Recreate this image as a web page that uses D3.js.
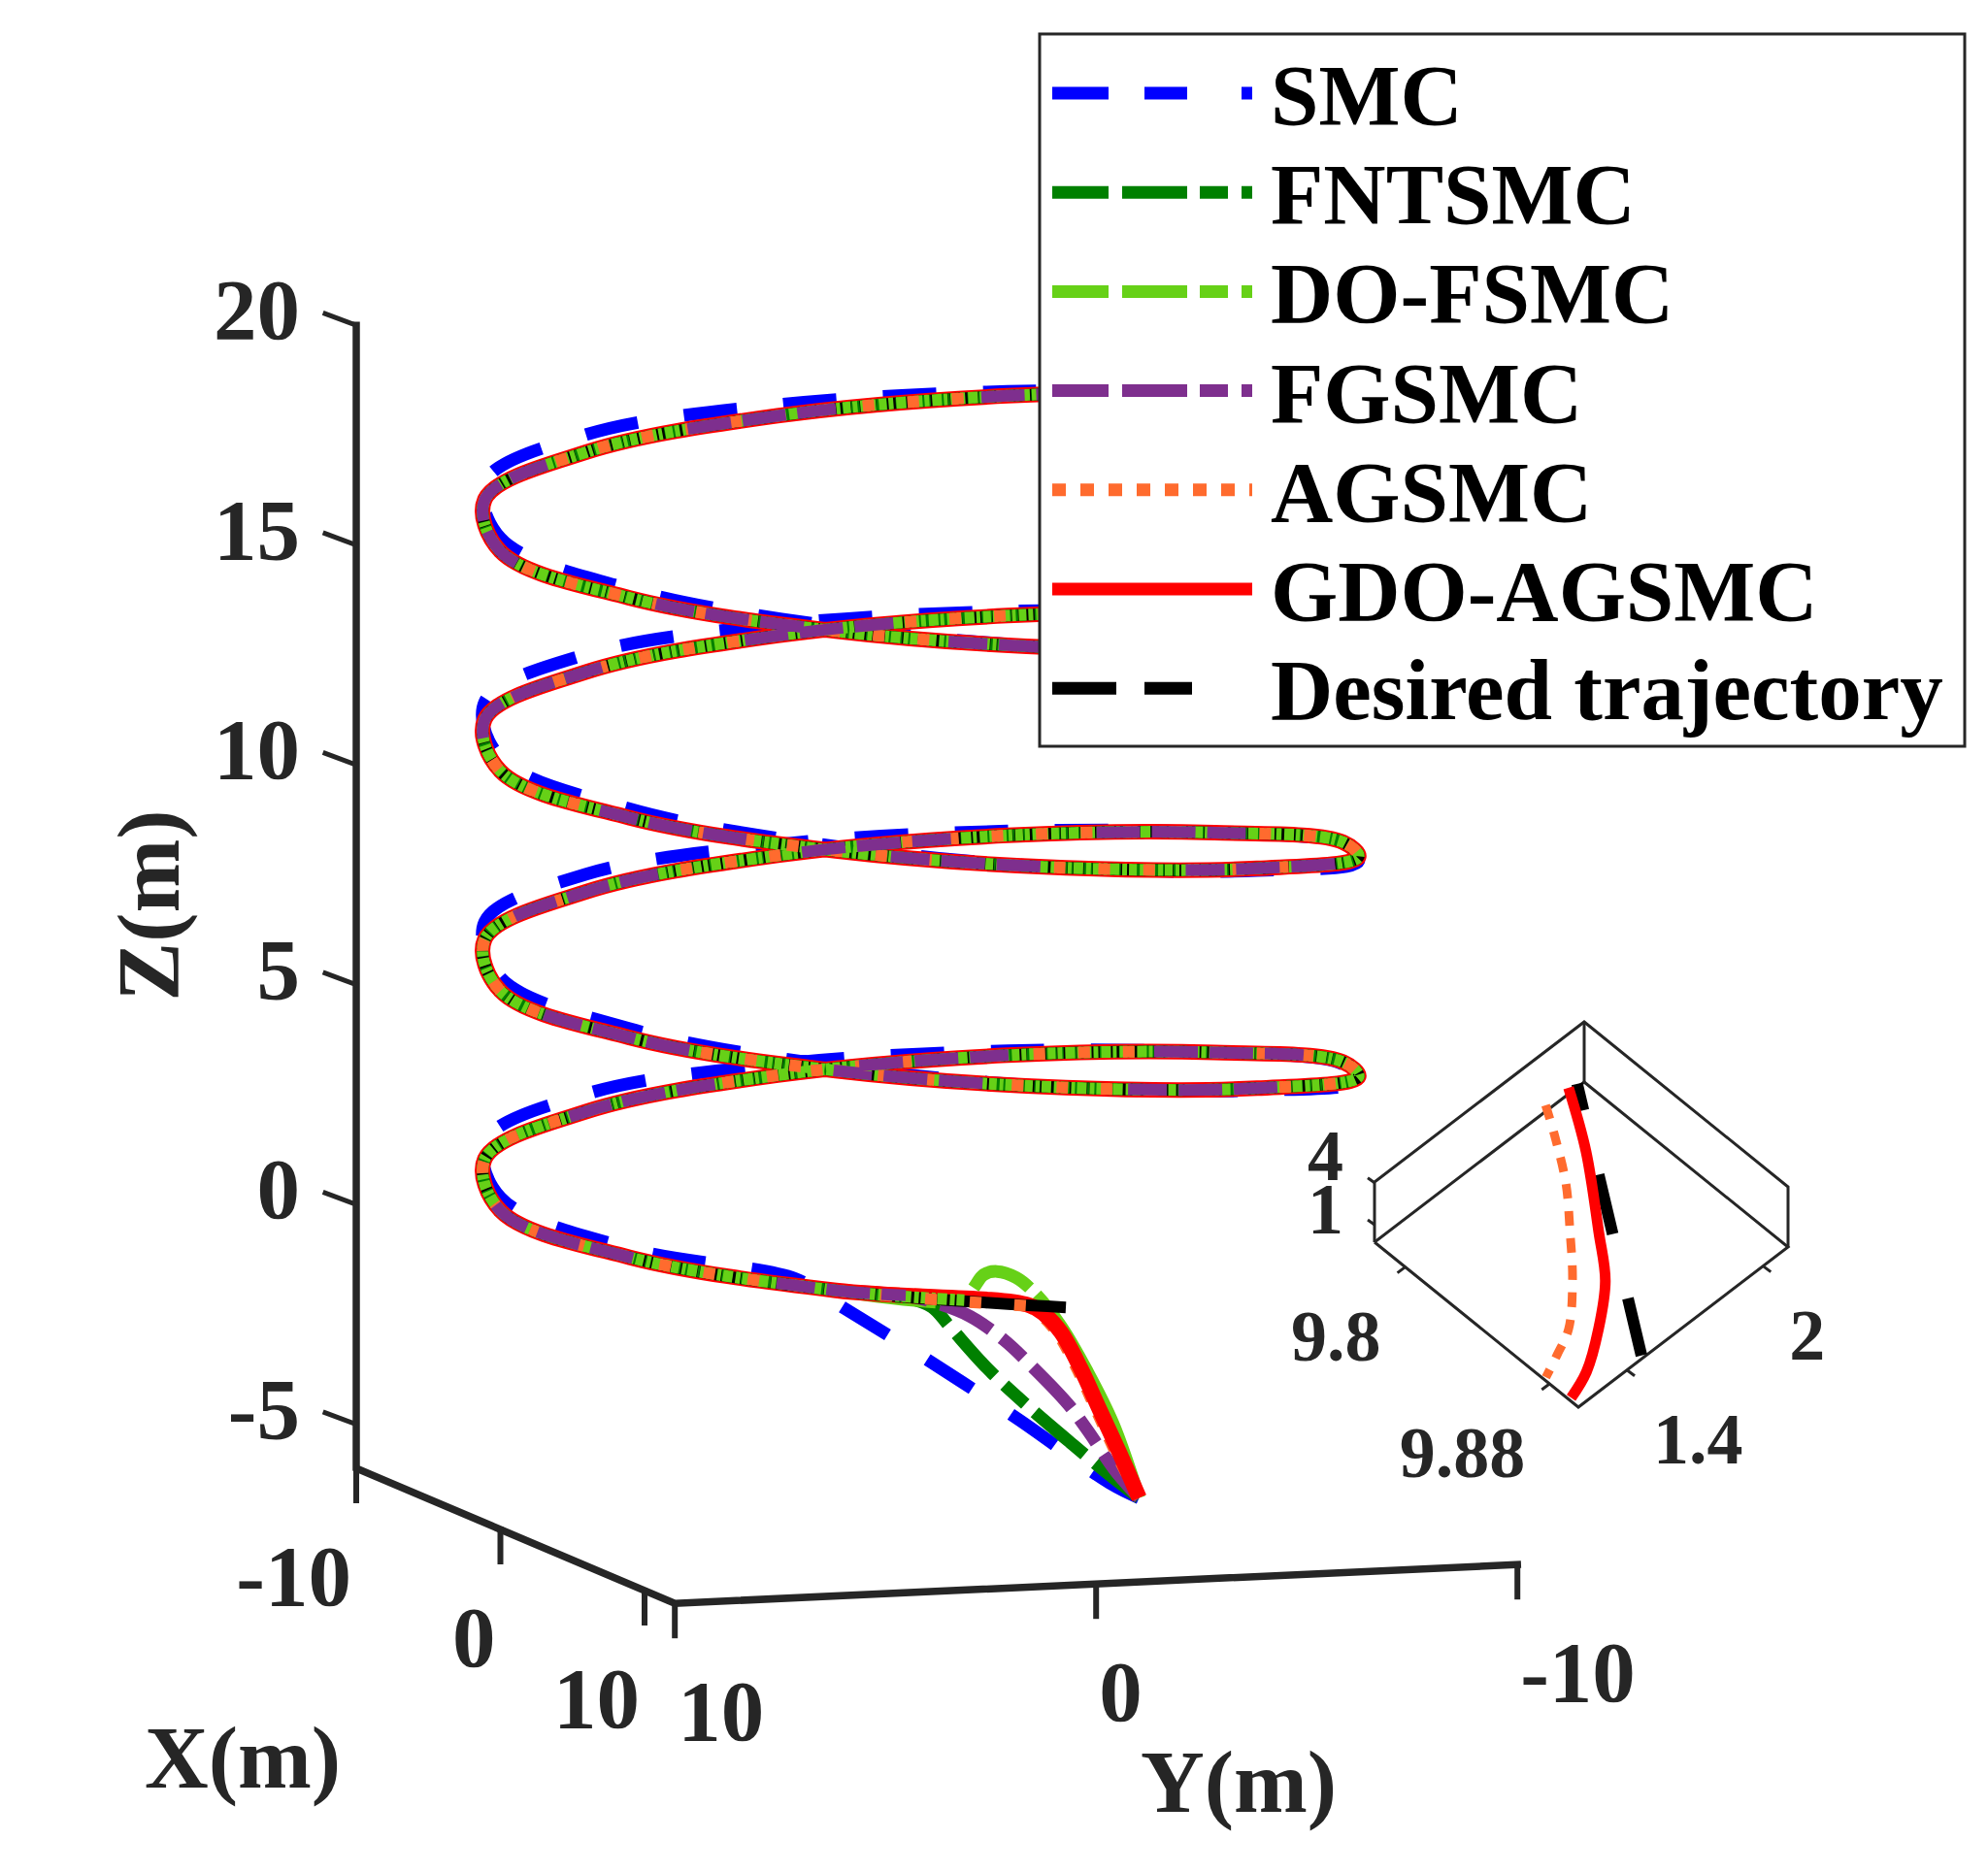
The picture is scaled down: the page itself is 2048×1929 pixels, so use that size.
<!DOCTYPE html>
<html>
<head>
<meta charset="utf-8">
<script src="https://cdn.jsdelivr.net/npm/d3@7"></script>
<style>
  body { margin: 0; background: #fff; }
  text { font-family: "Liberation Serif", "Times New Roman", serif; font-weight: bold; }
</style>
</head>
<body>
<div id="chart"></div>
<script>
// desired helix, every 30 degrees (radius 10 m, 5 m per turn)
const helixX = [10, 8.66, 5, 0, -5, -8.66, -10, -8.66, -5, 0, 5, 8.66,
    10, 8.66, 5, 0, -5, -8.66, -10, -8.66, -5, 0, 5, 8.66,
    10, 8.66, 5, 0, -5, -8.66, -10, -8.66, -5, 0, 5, 8.66,
    10, 8.66, 5, 0, -5, -8.66, -10, -8.66, -5, 0, 5, 8.66, 10];
const helixY = [0, 5, 8.66, 10, 8.66, 5, 0, -5, -8.66, -10, -8.66, -5,
    0, 5, 8.66, 10, 8.66, 5, 0, -5, -8.66, -10, -8.66, -5,
    0, 5, 8.66, 10, 8.66, 5, 0, -5, -8.66, -10, -8.66, -5,
    0, 5, 8.66, 10, 8.66, 5, 0, -5, -8.66, -10, -8.66, -5, 0];
const helixZ = [0, 0.42, 0.83, 1.25, 1.67, 2.08, 2.5, 2.92, 3.33, 3.75, 4.17, 4.58,
    5, 5.42, 5.83, 6.25, 6.67, 7.08, 7.5, 7.92, 8.33, 8.75, 9.17, 9.58,
    10, 10.42, 10.83, 11.25, 11.67, 12.08, 12.5, 12.92, 13.33, 13.75, 14.17, 14.58,
    15, 15.42, 15.83, 16.25, 16.67, 17.08, 17.5, 17.92, 18.33, 18.75, 19.17, 19.58, 20];
// SMC sits a little above the helix on the left side
const smcDz = [0, 0.1, 0.2, 0.3, 0.4, 0.4, 0.25, 0.1, 0, -0.05, -0.1, -0.05,
    0, 0.1, 0.2, 0.3, 0.4, 0.4, 0.25, 0.1, 0, -0.05, -0.1, -0.05,
    0, 0.1, 0.2, 0.3, 0.4, 0.4, 0.25, 0.1, 0, -0.05, -0.1, -0.05,
    0, 0.1, 0.2, 0.3, 0.4, 0.4, 0.25, 0.1, 0, -0.05, -0.1, -0.05, 0];

// start-up transients [x, y, z] before each controller joins the helix
const startSMC = [[10, -1.74, -4.41], [10, -1.04, -4.04], [10, 1.15, -2.48], [10, 3.33, -1.02], [10, 5.56, 0.40], [10, 6.41, 0.93]];
const startFNTSMC = [[10, -1.74, -4.41], [10, -1.04, -3.86], [10, -0.12, -3.09], [10, 0.92, -2.19], [10, 1.87, -1.30], [10, 2.76, -0.31], [10, 3.18, 0.15], [10, 3.80, 0.39]];
const startDOFSMC = [[10, -1.74, -4.41], [10, -1.12, -2.69], [10, -0.51, -1.48], [10, 0.11, -0.43], [10, 0.72, 0.34], [10, 1.18, 0.73], [10, 1.64, 0.89], [10, 1.95, 0.83], [10, 2.18, 0.55], [10, 2.41, 0.27]];
const startFGSMC = [[10, -1.74, -4.41], [10, -1.20, -3.80], [10, -0.51, -2.81], [10, -0.05, -2.20], [10, 0.80, -1.31], [10, 1.49, -0.66], [10, 2.26, -0.11], [10, 3.03, 0.22], [10, 3.80, 0.44]];
const startAGSMC = [[10, -1.74, -4.41], [10, -1.20, -3.39], [10, -0.74, -2.41], [10, -0.28, -1.44], [10, 0.18, -0.61], [10, 0.57, -0.17], [10, 0.95, 0.08]];
const startGDO = [[10, -1.74, -4.41], [10, -1.27, -3.36], [10, -0.81, -2.38], [10, -0.35, -1.40], [10, 0.11, -0.57], [10, 0.49, -0.15], [10, 0.88, 0.09]];

const xTicks = [-10, 0, 10];
const yTicks = [10, 0, -10];
const zTicks = [-5, 0, 5, 10, 15, 20];

const legendNames = ["SMC", "FNTSMC", "DO-FSMC", "FGSMC", "AGSMC", "GDO-AGSMC", "Desired trajectory"];

// zoomed inset, [x, y, z]
const insetGDO = [[9.782, 2.049, 0], [9.809, 1.911, 0], [9.841, 1.713, 0], [9.860, 1.591, 0], [9.875, 1.442, 0], [9.887, 1.293, 0], [9.892, 1.186, 0]];
const insetAGSMC = [[9.782, 1.948, 0], [9.795, 1.884, 0], [9.815, 1.775, 0], [9.833, 1.650, 0], [9.851, 1.518, 0], [9.867, 1.374, 0], [9.873, 1.276, 0], [9.878, 1.186, 0]];
const insetDesired = [[9.783, 2.079, 0], [9.896, 1.464, 0]];
const insetXTicks = [9.8, 9.88];
const insetYTicks = [1.4, 2];
const insetZTicks = [1, 4];

const axisColor = "#262626";
const styles = {
    "SMC": { color: "#0000ff", legendDash: "58,37,44,56,11,100" },
    "FNTSMC": { color: "#008000", legendDash: "58,14,67,13,29,14,11,100" },
    "DO-FSMC": { color: "#66d117", legendDash: "58,14,67,13,29,14,11,100" },
    "FGSMC": { color: "#7e2f8e", legendDash: "58,14,67,13,29,14,11,100" },
    "AGSMC": { color: "#ff6b2e", legendDash: "14,15" },
    "GDO-AGSMC": { color: "#ff0000", legendDash: null },
    "Desired trajectory": { color: "#000000", legendDash: "66,29,49,100" }
};

const svg = d3.select("#chart")
    .append("svg")
    .attr("width", 2048)
    .attr("height", 1929)
    .style("background", "#fff");

// main 3d axes: each scale gives a fraction along its axis edge
const xScale = d3.scaleLinear().domain([-10, 12.1]).range([0, 1]);
const yScale = d3.scaleLinear().domain([10, -10]).range([0, 1]);
const zScale = d3.scaleLinear().domain([-6, 20]).range([0, 1]);
const corner = [367, 1513];
const ex = [328.2, 139.2], ey = [868, -40], ez = [0, -1177.8];

function project(p) {
    const a = xScale(p[0]), b = yScale(p[1]), c = zScale(p[2]);
    return [corner[0] + a * ex[0] + b * ey[0] + c * ez[0],
            corner[1] + a * ex[1] + b * ey[1] + c * ez[1]];
}

const line = d3.line().curve(d3.curveCatmullRom.alpha(0.5));
const path3 = pts => line(pts.map(project));

const helix = helixX.map((x, i) => [x, helixY[i], helixZ[i]]);
const helixSMC = helix.map((p, i) => [p[0], p[1], p[2] + smcDz[i]]);

const plot = svg.append("g");

function draw(pts, color, width, dash, offset) {
    plot.append("path")
        .attr("d", path3(pts))
        .attr("fill", "none")
        .attr("stroke", color)
        .attr("stroke-width", width)
        .attr("stroke-dasharray", dash)
        .attr("stroke-dashoffset", offset || 0)
        .attr("stroke-linejoin", "round");
}

// transients first
draw(startSMC.concat(helixSMC.slice(2)), styles["SMC"].color, 13, "55,48");
draw(startFNTSMC.concat([helix[1]]), styles["FNTSMC"].color, 13, "58,14,67,13,29,14");
draw(startDOFSMC.concat([helix[1]]), styles["DO-FSMC"].color, 13, "236,10,70,12,20,14");
draw(startFGSMC.concat([helix[1]]), styles["FGSMC"].color, 13, "58,14,30,14");
draw(startAGSMC.concat([helix[1]]), styles["AGSMC"].color, 12, "13,15");
draw(startGDO.concat(helix.slice(1)), styles["GDO-AGSMC"].color, 16, null);
draw(helix, styles["Desired trajectory"].color, 12, null);

// steady tracking, chattering shows as fine stripes
draw(startFNTSMC.slice(-1).concat(helix.slice(1)), styles["FNTSMC"].color, 12, "3,2,6,3,2,4");
draw(startDOFSMC.slice(-1).concat(helix.slice(1)), styles["DO-FSMC"].color, 12, "8,2,5,3,10,2,4,3");
draw(startAGSMC.slice(-1).concat(helix.slice(1)), styles["AGSMC"].color, 12, "12,34");
draw(startFGSMC.slice(-1).concat(helix.slice(1)), styles["FGSMC"].color, 12, "45,12,45,12,40,150", 20);

// axes lines
const axes = svg.append("g").attr("stroke", axisColor).attr("stroke-linecap", "square");
const c0 = project([-10, 10, -6]), c1 = project([12.1, 10, -6]), c2 = project([12.1, -10, -6]), c3 = project([-10, 10, 20]);
axes.append("path").attr("d", d3.line()([c3, c0, c1, c2])).attr("fill", "none").attr("stroke-width", 7.5).attr("stroke-linejoin", "miter");

xTicks.forEach(t => {
    const p = project([t, 10, -6]);
    axes.append("line").attr("x1", p[0]).attr("y1", p[1]).attr("x2", p[0]).attr("y2", p[1] + 33).attr("stroke-width", 6);
    svg.append("text").attr("x", p[0] - 5).attr("y", p[1] + 141)
        .attr("text-anchor", "end").attr("font-size", 89).attr("fill", axisColor).text(t);
});
yTicks.forEach(t => {
    const p = project([12.1, t, -6]);
    axes.append("line").attr("x1", p[0]).attr("y1", p[1]).attr("x2", p[0]).attr("y2", p[1] + 33).attr("stroke-width", 6);
    svg.append("text").attr("x", p[0] + 3).attr("y", p[1] + 141)
        .attr("text-anchor", "start").attr("font-size", 89).attr("fill", axisColor).text(t);
});
zTicks.forEach(t => {
    const p = project([-10, 10, t]);
    axes.append("line").attr("x1", p[0]).attr("y1", p[1]).attr("x2", p[0] - 32).attr("y2", p[1] - 12).attr("stroke-width", 5);
    svg.append("text").attr("x", 309).attr("y", p[1] + 14)
        .attr("text-anchor", "end").attr("font-size", 89).attr("fill", axisColor).text(t);
});

svg.append("text").attr("x", 250).attr("y", 1842).attr("text-anchor", "middle")
    .attr("font-size", 91).attr("fill", axisColor).text("X(m)");
svg.append("text").attr("x", 1276).attr("y", 1867).attr("text-anchor", "middle")
    .attr("font-size", 91).attr("fill", axisColor).text("Y(m)");
svg.append("text").attr("transform", "translate(184,933) rotate(-90)").attr("text-anchor", "middle")
    .attr("font-size", 91).attr("fill", axisColor).text("Z(m)");

// inset axes
const ixScale = d3.scaleLinear().domain([9.783, 9.896]).range([0, 1]);
const iyScale = d3.scaleLinear().domain([1.186, 2.11]).range([0, 1]);
const izScale = d3.scaleLinear().domain([-0.25, 4.05]).range([0, 1]);
const iCorner = [1416, 1280], iex = [210, 170], iey = [216, -165], iez = [0, -62];
function projectInset(p) {
    const a = ixScale(p[0]), b = iyScale(p[1]), c = izScale(p[2]);
    return [iCorner[0] + a * iex[0] + b * iey[0] + c * iez[0],
            iCorner[1] + a * iex[1] + b * iey[1] + c * iez[1]];
}
const ix = ixScale.domain(), iy = iyScale.domain(), iz = izScale.domain();
const inset = svg.append("g");
const boxLine = d3.line();
const boxEdges = [
    [[ix[0], iy[0], iz[0]], [ix[1], iy[0], iz[0]], [ix[1], iy[1], iz[0]], [ix[0], iy[1], iz[0]], [ix[0], iy[0], iz[0]]],
    [[ix[0], iy[0], iz[0]], [ix[0], iy[0], iz[1]], [ix[0], iy[1], iz[1]], [ix[1], iy[1], iz[1]], [ix[1], iy[1], iz[0]]],
    [[ix[0], iy[1], iz[0]], [ix[0], iy[1], iz[1]]]
];
boxEdges.forEach(e => {
    inset.append("path").attr("d", boxLine(e.map(projectInset)))
        .attr("fill", "none").attr("stroke", axisColor).attr("stroke-width", 3);
});

const insetLine = d3.line().curve(d3.curveCatmullRom.alpha(0.5));
inset.append("path").attr("d", insetLine(insetAGSMC.map(projectInset)))
    .attr("fill", "none").attr("stroke", styles["AGSMC"].color).attr("stroke-width", 9).attr("stroke-dasharray", "15,13");
inset.append("path").attr("d", insetLine(insetDesired.map(projectInset)))
    .attr("fill", "none").attr("stroke", "#000").attr("stroke-width", 12)
    .attr("stroke-dasharray", "63,68").attr("stroke-dashoffset", 35);
inset.append("path").attr("d", insetLine(insetGDO.map(projectInset)))
    .attr("fill", "none").attr("stroke", styles["GDO-AGSMC"].color).attr("stroke-width", 11);

insetXTicks.forEach(t => {
    const p = projectInset([t, iy[0], iz[0]]);
    inset.append("line").attr("x1", p[0]).attr("y1", p[1]).attr("x2", p[0] - 8).attr("y2", p[1] + 6)
        .attr("stroke", axisColor).attr("stroke-width", 3);
    inset.append("text").attr("x", p[0] - 25).attr("y", p[1] + 96).attr("text-anchor", "end")
        .attr("font-size", 74).attr("fill", axisColor).text(t);
});
insetYTicks.forEach(t => {
    const p = projectInset([ix[1], t, iz[0]]);
    inset.append("line").attr("x1", p[0]).attr("y1", p[1]).attr("x2", p[0] + 8).attr("y2", p[1] + 6)
        .attr("stroke", axisColor).attr("stroke-width", 3);
    inset.append("text").attr("x", p[0] + 27).attr("y", p[1] + 96).attr("text-anchor", "start")
        .attr("font-size", 74).attr("fill", axisColor).text(t);
});
insetZTicks.forEach(t => {
    const p = projectInset([ix[0], iy[0], t]);
    inset.append("line").attr("x1", p[0]).attr("y1", p[1]).attr("x2", p[0] - 7).attr("y2", p[1] - 5)
        .attr("stroke", axisColor).attr("stroke-width", 3);
    inset.append("text").attr("x", 1384).attr("y", t === 4 ? p[1] - 3 : p[1] + 9).attr("text-anchor", "end")
        .attr("font-size", 74).attr("fill", axisColor).text(t);
});

// legend
const legend = svg.append("g");
legend.append("rect").attr("x", 1071).attr("y", 35).attr("width", 953).attr("height", 734)
    .attr("fill", "#fff").attr("stroke", axisColor).attr("stroke-width", 3);
legendNames.forEach((name, i) => {
    const base = 128 + i * 102.2;
    legend.append("line").attr("x1", 1084).attr("x2", 1290).attr("y1", base - 32).attr("y2", base - 32)
        .attr("stroke", styles[name].color).attr("stroke-width", 13)
        .attr("stroke-dasharray", styles[name].legendDash);
    legend.append("text").attr("x", 1309).attr("y", base).attr("font-size", 89)
        .attr("fill", "#000").text(name);
});
</script>
</body>
</html>
